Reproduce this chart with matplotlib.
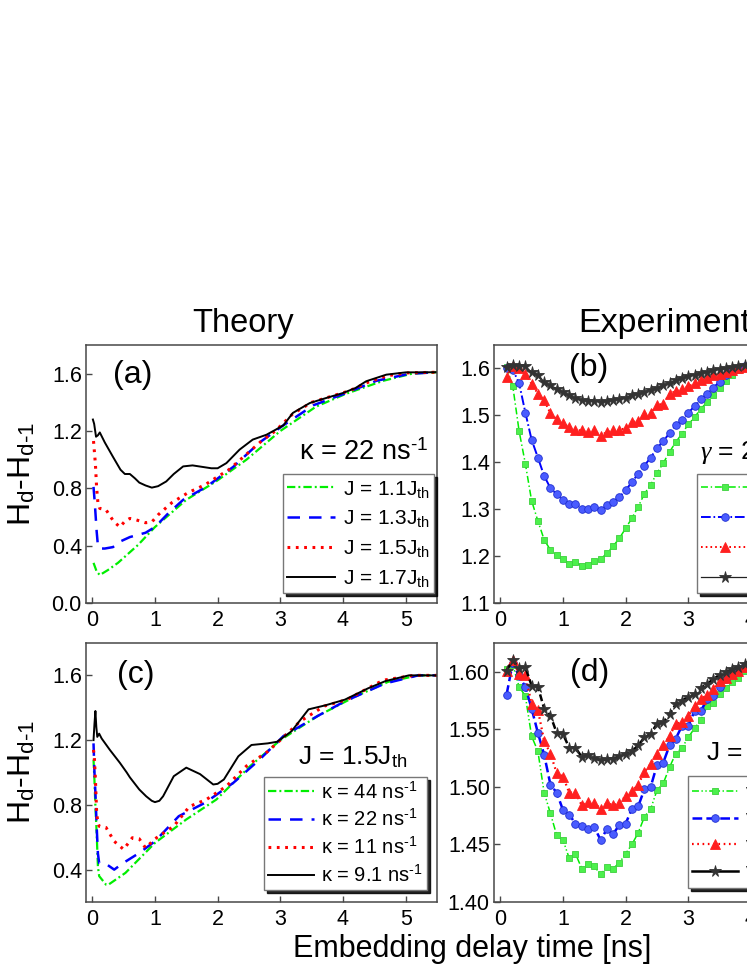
import matplotlib
matplotlib.use("Agg")
import matplotlib.pyplot as plt

plt.rcParams['font.family'] = ['Liberation Sans', 'DejaVu Sans']
plt.rcParams['mathtext.fontset'] = 'custom'
plt.rcParams['mathtext.rm'] = 'Liberation Sans'
plt.rcParams['mathtext.it'] = 'Liberation Serif:italic'
plt.rcParams['mathtext.bf'] = 'Liberation Sans:bold'
plt.rcParams['lines.scale_dashes'] = False

# ---------------- Theory data (a): kappa = 22 ns^-1 ----------------
a_t17 = [0.01, 0.03, 0.06, 0.09, 0.12, 0.2, 0.33, 0.45, 0.52, 0.6, 0.68, 0.75, 0.85, 0.95, 1.05, 1.18,
         1.3, 1.45, 1.6, 1.75, 1.9, 2.0, 2.14, 2.35, 2.56, 2.78, 2.93, 3.05, 3.2, 3.47, 3.73, 4.0, 4.2,
         4.37, 4.69, 5.0, 5.5]
a_v17 = [1.28, 1.25, 1.16, 1.17, 1.19, 1.12, 1.02, 0.93, 0.90, 0.90, 0.87, 0.84, 0.82, 0.805, 0.815, 0.848,
         0.90, 0.953, 0.96, 0.95, 0.94, 0.94, 0.976, 1.07, 1.14, 1.174, 1.21, 1.24, 1.326, 1.395, 1.43, 1.465,
         1.50, 1.547, 1.593, 1.609, 1.61]
a_t15 = [0.02, 0.05, 0.07, 0.09, 0.12, 0.22, 0.34, 0.44, 0.52, 0.6, 0.7, 0.85, 0.95, 1.05, 1.27, 1.53, 1.8,
         1.96, 2.18, 2.44, 2.7, 2.92, 3.2, 3.5, 3.8, 4.1, 4.4, 4.7, 5.0, 5.5]
a_v15 = [1.13, 0.97, 0.80, 0.70, 0.66, 0.65, 0.57, 0.53, 0.57, 0.59, 0.58, 0.56, 0.565, 0.615, 0.70, 0.77,
         0.825, 0.87, 0.93, 1.03, 1.13, 1.20, 1.32, 1.40, 1.44, 1.48, 1.54, 1.585, 1.605, 1.61]
a_t13 = [0.02, 0.04, 0.07, 0.09, 0.12, 0.2, 0.33, 0.45, 0.6, 0.85, 1.0, 1.2, 1.45, 1.82, 2.25, 2.67, 3.05,
         3.53, 4.05, 4.53, 5.07, 5.5]
a_v13 = [0.81, 0.70, 0.50, 0.40, 0.38, 0.38, 0.39, 0.43, 0.46, 0.49, 0.53, 0.62, 0.72, 0.81, 0.95, 1.12,
         1.24, 1.38, 1.465, 1.55, 1.60, 1.61]
a_t11 = [0.02, 0.07, 0.12, 0.25, 0.41, 0.73, 1.0, 1.5, 1.98, 2.46, 3.0, 3.57, 4.05, 4.64, 5.1, 5.5]
a_v11 = [0.28, 0.22, 0.195, 0.23, 0.28, 0.405, 0.53, 0.72, 0.85, 1.0, 1.2, 1.37, 1.46, 1.55, 1.6, 1.61]

# ---------------- Theory data (c): J = 1.5 J_th ----------------
c_t91 = [0.02, 0.035, 0.05, 0.065, 0.08, 0.11, 0.15, 0.28, 0.44, 0.55, 0.6, 0.62, 0.75, 0.86, 0.95, 1.0,
         1.07, 1.13, 1.3, 1.5, 1.72, 1.93, 2.0, 2.1, 2.33, 2.54, 2.8, 2.95, 3.18, 3.45, 3.72, 4.03, 4.4,
         4.68, 5.05, 5.5]
c_v91 = [1.20, 1.30, 1.38, 1.28, 1.22, 1.24, 1.21, 1.14, 1.06, 1.0, 0.97, 0.96, 0.895, 0.853, 0.825, 0.817,
         0.825, 0.853, 0.977, 1.03, 0.99, 0.926, 0.93, 0.957, 1.1, 1.17, 1.18, 1.19, 1.255, 1.39, 1.415,
         1.45, 1.52, 1.565, 1.6, 1.6]
c_t11 = [0.02, 0.035, 0.05, 0.07, 0.09, 0.11, 0.22, 0.35, 0.5, 0.64, 0.75, 0.85, 1.0, 1.3, 1.55, 1.82,
         2.14, 2.46, 2.8, 3.0, 3.32, 3.7, 4.06, 4.64, 5.13, 5.5]
c_v11 = [1.14, 1.08, 0.96, 0.75, 0.69, 0.668, 0.66, 0.575, 0.525, 0.597, 0.59, 0.534, 0.59, 0.668, 0.79,
         0.833, 0.915, 1.04, 1.13, 1.2, 1.317, 1.41, 1.45, 1.57, 1.6, 1.6]
c_t22 = [0.02, 0.035, 0.05, 0.07, 0.09, 0.11, 0.22, 0.35, 0.49, 0.75, 1.0, 1.38, 1.8, 2.25, 2.67, 3.05,
         3.6, 4.03, 4.67, 5.2, 5.5]
c_v22 = [1.18, 1.0, 0.875, 0.668, 0.50, 0.44, 0.435, 0.40, 0.44, 0.503, 0.575, 0.73, 0.813, 0.936, 1.08,
         1.225, 1.35, 1.44, 1.55, 1.6, 1.6]
c_t44 = [0.02, 0.035, 0.05, 0.07, 0.09, 0.11, 0.22, 0.25, 0.53, 1.0, 1.5, 1.98, 2.52, 3.0, 3.6, 4.2, 4.72,
         5.2, 5.5]
c_v44 = [1.08, 0.95, 0.79, 0.627, 0.42, 0.36, 0.307, 0.305, 0.38, 0.565, 0.71, 0.833, 1.04, 1.2, 1.35,
         1.47, 1.56, 1.6, 1.6]

# ---------------- Experimental data ----------------
t_exp = [0.1, 0.2, 0.3, 0.4, 0.5, 0.6, 0.7, 0.8, 0.9, 1.0, 1.1, 1.2, 1.3, 1.4, 1.5, 1.6, 1.7, 1.8, 1.9, 2.0,
         2.1, 2.2, 2.3, 2.4, 2.5, 2.6, 2.7, 2.8, 2.9, 3.0, 3.1, 3.2, 3.3, 3.4, 3.5, 3.6, 3.7, 3.8, 3.9, 4.0]

b_green = [1.603, 1.562, 1.467, 1.397, 1.318, 1.275, 1.235, 1.213, 1.202, 1.193, 1.184, 1.188, 1.179, 1.182,
           1.189, 1.193, 1.206, 1.221, 1.238, 1.259, 1.281, 1.305, 1.333, 1.352, 1.377, 1.398, 1.422, 1.443,
           1.461, 1.481, 1.496, 1.514, 1.528, 1.543, 1.559, 1.574, 1.585, 1.596, 1.602, 1.606]
b_blue = [1.601, 1.597, 1.569, 1.506, 1.448, 1.41, 1.371, 1.345, 1.332, 1.32, 1.312, 1.312, 1.301, 1.30,
          1.305, 1.298, 1.308, 1.316, 1.326, 1.34, 1.358, 1.375, 1.393, 1.41, 1.43, 1.445, 1.462, 1.479,
          1.490, 1.505, 1.52, 1.534, 1.546, 1.559, 1.572, 1.585, 1.596, 1.601, 1.605, 1.607]
b_red = [1.582, 1.606, 1.60, 1.588, 1.567, 1.546, 1.532, 1.504, 1.492, 1.483, 1.475, 1.469, 1.468, 1.465,
         1.468, 1.456, 1.465, 1.468, 1.469, 1.473, 1.485, 1.489, 1.503, 1.504, 1.522, 1.525, 1.546, 1.552,
         1.556, 1.562, 1.568, 1.575, 1.579, 1.585, 1.589, 1.593, 1.597, 1.601, 1.604, 1.606]
b_black = [1.603, 1.608, 1.605, 1.605, 1.592, 1.587, 1.571, 1.564, 1.557, 1.55, 1.543, 1.536, 1.532, 1.531,
           1.531, 1.529, 1.531, 1.532, 1.534, 1.538, 1.543, 1.546, 1.55, 1.555, 1.559, 1.564, 1.569, 1.575,
           1.58, 1.583, 1.587, 1.59, 1.593, 1.596, 1.598, 1.60, 1.603, 1.605, 1.607, 1.608]

d_green = [1.602, 1.606, 1.587, 1.579, 1.544, 1.531, 1.495, 1.477, 1.458, 1.454, 1.438, 1.442, 1.429, 1.433,
           1.431, 1.424, 1.43, 1.429, 1.434, 1.442, 1.45, 1.46, 1.474, 1.481, 1.497, 1.503, 1.517, 1.529,
           1.534, 1.543, 1.551, 1.558, 1.57, 1.573, 1.581, 1.586, 1.591, 1.595, 1.601, 1.604]
d_blue = [1.580, 1.608, 1.596, 1.587, 1.568, 1.547, 1.528, 1.502, 1.495, 1.48, 1.476, 1.468, 1.466, 1.463,
          1.465, 1.454, 1.463, 1.459, 1.467, 1.468, 1.481, 1.483, 1.498, 1.5, 1.519, 1.521, 1.536, 1.542,
          1.553, 1.553, 1.566, 1.566, 1.576, 1.579, 1.587, 1.594, 1.598, 1.602, 1.605, 1.607]
d_red = [1.601, 1.61, 1.598, 1.597, 1.572, 1.567, 1.54, 1.529, 1.512, 1.509, 1.495, 1.495, 1.484, 1.487,
         1.486, 1.481, 1.486, 1.484, 1.486, 1.492, 1.496, 1.502, 1.513, 1.52, 1.529, 1.536, 1.544, 1.555,
         1.556, 1.562, 1.57, 1.576, 1.58, 1.585, 1.592, 1.595, 1.598, 1.601, 1.604, 1.606]
d_black = [1.601, 1.61, 1.603, 1.604, 1.588, 1.587, 1.568, 1.562, 1.547, 1.546, 1.534, 1.534, 1.526, 1.528,
           1.525, 1.523, 1.524, 1.524, 1.527, 1.529, 1.531, 1.536, 1.543, 1.546, 1.555, 1.556, 1.563, 1.572,
           1.575, 1.578, 1.5805, 1.586, 1.589, 1.594, 1.597, 1.60, 1.602, 1.604, 1.607, 1.608]

SUP = r'$^{\mathregular{\text{-}1}}$'
SUB = r'$_{\mathregular{th}}$'
labels_a = ['J = 1.1J' + SUB, 'J = 1.3J' + SUB, 'J = 1.5J' + SUB, 'J = 1.7J' + SUB]
labels_c = ['κ = 44 ns' + SUP, 'κ = 22 ns' + SUP, 'κ = 11 ns' + SUP, 'κ = 9.1 ns' + SUP]
labels_b = labels_a
labels_d = ['γ = 44 ns' + SUP, 'γ = 22 ns' + SUP, 'γ = 11 ns' + SUP, 'γ = 9.1 ns' + SUP]
xticks = [0, 1, 2, 3, 4, 5]

# ---------------- figure ----------------
W, H = 747, 967
fig = plt.figure(figsize=(W / 100, H / 100), dpi=100)


def add_ax(x0, y0, x1, y1):
    return fig.add_axes([x0 / W, 1 - y1 / H, (x1 - x0) / W, (y1 - y0) / H])


axA = add_ax(86, 345, 437, 603)
axB = add_ax(494, 345, 845, 603)
axC = add_ax(86, 643, 437, 902)
axD = add_ax(494, 643, 845, 902)

GREEN = '#00ee00'
BLUE = '#0000ff'
RED = '#ff0000'
SPINE = '#484848'

ls_g = (0, (6, 2.2, 1.4, 2.2))
ls_b = (0, (9, 6.5))
ls_r = (0, (2.0, 4.0))
lw_t = 1.6


def style(ax, ylim, yticks, yfmt):
    ax.set_xlim(-0.1, 5.5)
    ax.set_ylim(*ylim)
    ax.set_xticks(xticks)
    ax.set_yticks(yticks)
    ax.set_yticklabels([yfmt % v for v in yticks])
    ax.tick_params(direction='in', length=4.5, width=1.0, color=SPINE, labelsize=15.5)
    ax.tick_params(axis='x', pad=5)
    ax.tick_params(axis='y', pad=3)
    for s in ax.spines.values():
        s.set_color(SPINE)
        s.set_linewidth(1.1)


# (a)
axA.plot(a_t11, a_v11, color=GREEN, ls=ls_g, lw=lw_t, label=labels_a[0])
axA.plot(a_t13, a_v13, color=BLUE, ls=ls_b, lw=lw_t + 0.2, label=labels_a[1])
axA.plot(a_t15, a_v15, color=RED, ls=ls_r, lw=2.2, label=labels_a[2])
axA.plot(a_t17, a_v17, color='black', ls='-', lw=1.4, label=labels_a[3])
style(axA, (0.0, 1.8), [0.0, 0.4, 0.8, 1.2, 1.6], '%.1f')

# (c)
axC.plot(c_t44, c_v44, color=GREEN, ls=ls_g, lw=lw_t, label=labels_c[0])
axC.plot(c_t22, c_v22, color=BLUE, ls=ls_b, lw=lw_t + 0.2, label=labels_c[1])
axC.plot(c_t11, c_v11, color=RED, ls=ls_r, lw=2.2, label=labels_c[2])
axC.plot(c_t91, c_v91, color='black', ls='-', lw=1.4, label=labels_c[3])
style(axC, (0.2, 1.8), [0.4, 0.8, 1.2, 1.6], '%.1f')

# (b)
mk = dict(markeredgewidth=0.6)
axB.plot(t_exp, b_green, color=GREEN, ls=(0, (5, 2, 1, 2)), lw=1.1, marker='s', ms=5,
         mfc='#4cf04c', mec='#3cd03c', label=labels_b[0], **mk)
axB.plot(t_exp, b_blue, color=BLUE, ls=(0, (7, 2, 1.2, 2)), lw=1.4, marker='o', ms=5.5,
         mfc='#4a5cff', mec='#1f2fd0', label=labels_b[1], **mk)
axB.plot(t_exp, b_red, color=RED, ls=(0, (1.2, 2.2)), lw=1.4, marker='^', ms=6.5,
         mfc='#ff2020', mec='#ff2020', label=labels_b[2], **mk)
axB.plot(t_exp, b_black, color='#222222', ls='-', lw=0.9, marker='*', ms=8.5,
         mfc='#333333', mec='#333333', label=labels_b[3], **mk)
style(axB, (1.1, 1.65), [1.1, 1.2, 1.3, 1.4, 1.5, 1.6], '%.1f')

# (d)
axD.plot(t_exp, d_green, color=GREEN, ls=(0, (5, 1.8, 1, 1.8, 1, 1.8)), lw=1.1, marker='s', ms=5,
         mfc='#4cf04c', mec='#3cd03c', label=labels_d[0], **mk)
axD.plot(t_exp, d_blue, color=BLUE, ls=(0, (7, 3)), lw=1.8, marker='o', ms=5.5,
         mfc='#4a5cff', mec='#1f2fd0', label=labels_d[1], **mk)
axD.plot(t_exp, d_red, color=RED, ls=(0, (1.2, 2.6)), lw=1.6, marker='^', ms=6.5,
         mfc='#ff2020', mec='#ff2020', label=labels_d[2], **mk)
axD.plot(t_exp, d_black, color='black', ls=(0, (5, 2.5)), lw=1.8, marker='*', ms=8.5,
         mfc='#333333', mec='#333333', label=labels_d[3], **mk)
style(axD, (1.40, 1.625), [1.40, 1.45, 1.50, 1.55, 1.60], '%.2f')

# legends
base_kw = dict(frameon=True, fancybox=False, handlelength=2.3, handletextpad=0.35,
               borderaxespad=0.0, shadow={'color': 'black', 'alpha': 0.85, 'ox': 2.2, 'oy': -2.2})
legend_specs = [
    (axA, 'lower right', ((434 - 86) / 351, (603 - 593) / 258), 15, 0.42, 0.2),
    (axC, 'lower right', ((427 - 86) / 351, (902 - 890) / 259), 14.5, 0.33, 0.2),
    (axB, 'lower left', ((697 - 494) / 351, (603 - 593) / 258), 15, 0.42, 0.2),
    (axD, 'lower left', ((688 - 494) / 351, (902 - 888) / 259), 14.5, 0.06, 0.2),
]
legends = []
for ax, loc, anchor, fs, lsp, bpad in legend_specs:
    lg = ax.legend(loc=loc, bbox_to_anchor=anchor, fontsize=fs, labelspacing=lsp,
                   borderpad=bpad, **base_kw)
    lg.get_frame().set_edgecolor('#777777')
    lg.get_frame().set_linewidth(1.0)
    legends.append(lg)
# black handle in (d) legend is drawn solid, as in the reference
legends[3].get_lines()[3].set_linestyle('-')

# in-panel text
axA.text((428 - 86) / 351, (603 - 453) / 258, 'κ = 22 ns' + SUP, transform=axA.transAxes,
         ha='right', va='center', fontsize=19.5)
axC.text((408 - 86) / 351, (902 - 757) / 259, 'J = 1.5J' + SUB, transform=axC.transAxes,
         ha='right', va='center', fontsize=19)
axB.text((700 - 494) / 351, (603 - 452) / 258, r'$\gamma$ = 22 ns' + SUP, transform=axB.transAxes,
         ha='left', va='center', fontsize=19)
axD.text((706 - 494) / 351, (902 - 753) / 259, 'J = 1.5J' + SUB, transform=axD.transAxes,
         ha='left', va='center', fontsize=19)

for lab, x, y in [('(a)', 133, 375), ('(b)', 589, 368), ('(c)', 136, 675), ('(d)', 590, 673)]:
    fig.text(x / W, 1 - y / H, lab, ha='center', va='center', fontsize=23)

# titles and axis labels
fig.text(243 / W, 1 - 332 / H, 'Theory', ha='center', va='baseline', fontsize=23.5)
fig.text(578 / W, 1 - 332 / H, 'Experiments', ha='left', va='baseline', fontsize=24.5)
ylab = r'H$_{\mathregular{d}}$-H$_{\mathregular{d\text{-}1}}$'
fig.text(22 / W, 1 - 474 / H, ylab, rotation=90, ha='center', va='center', fontsize=23)
fig.text(22 / W, 1 - 772 / H, ylab, rotation=90, ha='center', va='center', fontsize=23)
fig.text(293 / W, 1 - 957 / H, 'Embedding delay time [ns]', ha='left', va='baseline', fontsize=22)

fig.savefig('out.png', dpi=100)
